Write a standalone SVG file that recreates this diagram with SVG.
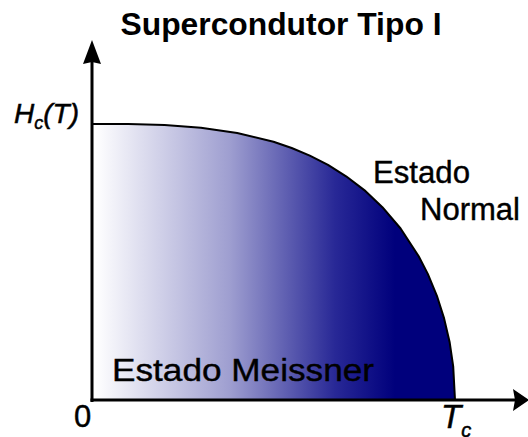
<svg xmlns="http://www.w3.org/2000/svg" width="528" height="437" viewBox="0 0 528 437">
<style>
text{font-family:"Liberation Sans",Arial,sans-serif;fill:#000}
.title{font-weight:bold;font-size:31px}
.lbl{font-size:31px;stroke:#000;stroke-width:0.4}
.it{font-style:italic;stroke:#000;stroke-width:0.5}
.axis{stroke:#000;stroke-width:3;fill:none}
.curve{fill:none;stroke:#000;stroke-width:2;stroke-linejoin:round}
</style>
<defs>
<linearGradient id="g" gradientUnits="userSpaceOnUse" x1="95" y1="0" x2="395" y2="0">
<stop offset="0" stop-color="#ffffff"/>
<stop offset="0.45" stop-color="#9e9ed0"/>
<stop offset="0.8" stop-color="#282896"/>
<stop offset="1" stop-color="#00007c"/>
</linearGradient>
</defs>
<rect width="528" height="437" fill="#fff"/>
<g id="region">
<path d="M92,124 L128.3,124.1 164.6,125.1 200.9,127.7 237.2,133 273.5,141.8 291.7,148 309.8,155.6 328,164.9 346.1,176.3 364.3,190.1 382.4,207.2 400.6,228.5 418.7,256.3 427.8,273.9 436.9,295.8 444.1,318.4 449.6,341.9 453.2,366.3 455,400 L92,400 Z" fill="url(#g)"/>
<path class="curve" d="M92,124 L128.3,124.1 164.6,125.1 200.9,127.7 237.2,133 273.5,141.8 291.7,148 309.8,155.6 328,164.9 346.1,176.3 364.3,190.1 382.4,207.2 400.6,228.5 418.7,256.3 427.8,273.9 436.9,295.8 444.1,318.4 449.6,341.9 453.2,366.3 455,400"/>
</g>
<g id="axes">
<line class="axis" x1="92" y1="402" x2="92" y2="60"/>
<polygon points="92,40 101,64 92,62 83,64" fill="#000"/>
<line class="axis" x1="90.5" y1="400" x2="515" y2="400"/>
<polygon points="529,400 513,389 515,400 513,411" fill="#000"/>
</g>
<g id="labels">
<text class="title" x="281" y="35" text-anchor="middle" textLength="321" lengthAdjust="spacingAndGlyphs">Supercondutor Tipo I</text>
<text class="it" x="14" y="123" font-size="28">H<tspan font-size="18" dy="6">c</tspan><tspan dy="-6">(T)</tspan></text>
<text class="lbl" x="373" y="183" textLength="97" lengthAdjust="spacingAndGlyphs">Estado</text>
<text class="lbl" x="420" y="220" textLength="100" lengthAdjust="spacingAndGlyphs">Normal</text>
<text class="lbl" x="112" y="381" font-size="33" textLength="262" lengthAdjust="spacingAndGlyphs">Estado Meissner</text>
<text class="lbl" x="74" y="427">0</text>
<text class="it" x="441" y="428" font-size="33">T<tspan font-size="20" dy="8.5">c</tspan></text>
</g>
</svg>
